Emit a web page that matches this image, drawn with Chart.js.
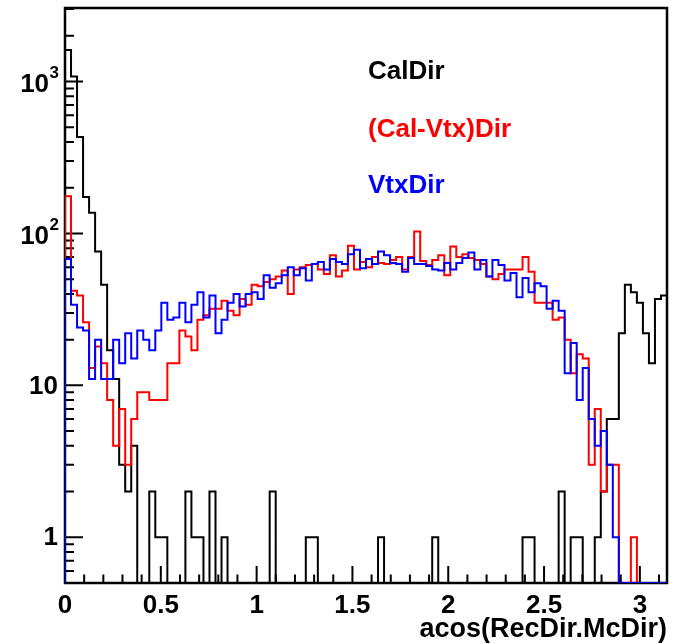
<!DOCTYPE html>
<html><head><meta charset="utf-8">
<script src="https://cdn.jsdelivr.net/npm/chart.js@4/dist/chart.umd.min.js"></script>
<style>html,body{margin:0;padding:0;background:#fff;overflow:hidden}#wrap{width:674px;height:644px;position:relative}</style>
</head><body><div id="wrap"><canvas id="c" width="674" height="644"></canvas></div>
<script>
// ---- data ----
const nBins = 100;
const xLow = 0, xHigh = 3.1416;
const calDir = [1615,1079,431,174,137,76,46,17,11,3, 2,4,0,0,2,1,1,0,0,0, 2,1,1,0,2,0,1,0,0,0, 0,0,0,0,2,0,0,0,0,0, 1,1,0,0,0,0,0,0,0,0, 0,0,1,0,0,0,0,0,0,0, 0,1,0,0,0,0,0,0,0,0, 0,0,0,0,0,0,1,1,0,0, 0,0,2,0,1,1,0,0,1,2, 6,6,22,46,41,35,22,14,37,39];
const calVtxDir = [176,42,39,26,13,18,14,8,4,7, 3,6,9,9,8,8,8,14,14,23, 21,17,27,29,32,32,36,31,29,37, 34,46,45,48,50,52,57,40,58,60, 62,63,58,54,72,52,57,83,58,65, 60,70,64,63,67,70,58,70,103,66, 62,67,72,53,82,70,73,69,67,63, 52,50,54,58,58,58,70,56,35,35, 35,27,28,20,12,16,15,3,7,2, 3,3,0,0,1,0,0,0,0,0];
const vtxDir = [68,34,24,23,11,20,11,11,20,14, 22,15,23,20,17,23,35,27,28,35, 26,34,41,28,39,22,27,35,40,33, 40,41,37,53,44,47,53,60,53,59, 49,63,65,58,68,65,63,73,78,59, 68,63,76,72,64,63,56,69,63,63, 61,58,57,64,58,64,69,75,58,67, 52,67,62,49,55,38,51,41,47,45, 32,36,31,12,19,8,13,6,4,5, 3,1,0,0,0,0,0,0,0,0];
const seriesNames = ['CalDir', '(Cal-Vtx)Dir', 'VtxDir'];
const seriesColors = ['#000000', '#ff0000', '#0000ff'];
const xTickValues = [0, 0.5, 1, 1.5, 2, 2.5, 3];
const xTickLabels = ['0', '0.5', '1', '1.5', '2', '2.5', '3'];
const yDecadeValues = [1, 10, 100, 1000];
const yDecadeBase = ['1', '10', '10', '10'];
const yDecadeExp = ['', '', '2', '3'];
const yMin = 0.5, yMax = 3050;
const xTitle = 'acos(RecDir.McDir)';

const FONT = "'Liberation Sans', Arial, Helvetica, sans-serif";

function toSteps(vals) {
  const w = (xHigh - xLow) / nBins;
  const pts = [{x: xLow, y: yMin}];
  vals.forEach((v, i) => pts.push({x: xLow + i * w, y: v > 0 ? v : yMin}));
  pts.push({x: xHigh, y: vals[vals.length - 1] > 0 ? vals[vals.length - 1] : yMin});
  pts.push({x: xHigh, y: yMin});
  return pts;
}

const allSeries = [calDir, calVtxDir, vtxDir];
const datasets = allSeries.map((vals, i) => ({
  label: seriesNames[i],
  data: toSteps(vals),
  borderColor: seriesColors[i],
  backgroundColor: seriesColors[i],
  borderWidth: 2,
  stepped: 'before',
  fill: false,
  pointRadius: 0,
  order: 3 - i
}));

const framePlugin = {
  id: 'rootFrame',
  beforeDatasetsDraw(chart) {
    const {ctx, chartArea: a, scales: {x, y}} = chart;
    ctx.save();
    ctx.strokeStyle = '#000';
    ctx.lineWidth = 2;
    ctx.beginPath();
    for (let e = -1; e <= 4; e++) {
      for (let m = 1; m <= 9; m++) {
        const v = m * Math.pow(10, e);
        if (v <= yMin || v >= yMax) continue;
        const py = y.getPixelForValue(v);
        const len = m === 1 ? 18 : 9;
        ctx.moveTo(a.left, py); ctx.lineTo(a.left + len, py);
      }
    }
    for (let i = 0; i <= 31; i++) {
      const v = i / 10;
      if (v > xHigh) break;
      const px = x.getPixelForValue(v);
      const len = i % 5 === 0 ? 17 : 8.5;
      ctx.moveTo(px, a.bottom); ctx.lineTo(px, a.bottom - len);
    }
    ctx.stroke();
    ctx.lineWidth = 2.5;
    ctx.strokeRect(a.left, a.top, a.right - a.left, a.bottom - a.top);
    ctx.restore();
  },
  afterDraw(chart) {
    const {ctx, scales: {y}} = chart;
    ctx.save();
    ctx.fillStyle = '#000';
    ctx.textBaseline = 'middle';
    ctx.textAlign = 'right';
    const right = 59;
    yDecadeValues.forEach((v, i) => {
      const py = y.getPixelForValue(v);
      if (yDecadeExp[i]) {
        ctx.font = 'bold 17px ' + FONT;
        const ew = ctx.measureText(yDecadeExp[i]).width;
        ctx.fillText(yDecadeExp[i], right, py - 8);
        ctx.font = 'bold 26px ' + FONT;
        ctx.fillText(yDecadeBase[i], right - ew - 0.5, py + 3);
      } else {
        ctx.font = 'bold 26px ' + FONT;
        ctx.fillText(yDecadeBase[i], right - 1, py + 1);
      }
    });
    ctx.restore();
  }
};

const legendTextPlugin = {
  id: 'legendText',
  afterDraw(chart) {
    const ctx = chart.ctx;
    const ys = [72, 130, 186];
    ctx.save();
    ctx.font = 'bold 26px ' + FONT;
    ctx.textBaseline = 'middle';
    ctx.textAlign = 'left';
    seriesNames.forEach((n, i) => {
      ctx.fillStyle = seriesColors[i];
      ctx.fillText(n, 368, ys[i]);
    });
    ctx.restore();
  }
};

new Chart(document.getElementById('c'), {
  type: 'line',
  data: {datasets},
  options: {
    responsive: false,
    animation: false,
    devicePixelRatio: 1,
    layout: {padding: {top: 8, right: 7, left: 0, bottom: 0}},
    plugins: {legend: {display: false}, tooltip: {enabled: false}},
    scales: {
      x: {
        type: 'linear', min: xLow, max: xHigh,
        afterBuildTicks: s => { s.ticks = xTickValues.map(v => ({value: v})); },
        afterFit: s => { s.height = 61; },
        grid: {display: false, drawTicks: false},
        border: {display: false},
        ticks: {
          callback: (v, i) => xTickLabels[i],
          font: {family: FONT, size: 26, weight: 'bold'},
          color: '#000', padding: 7, maxRotation: 0, autoSkip: false
        },
        title: {
          display: true, text: xTitle, align: 'end', color: '#000',
          font: {family: FONT, size: 27, weight: 'bold', lineHeight: 1},
          padding: {top: 0, bottom: 1}
        }
      },
      y: {
        type: 'logarithmic', min: yMin, max: yMax,
        afterBuildTicks: s => { s.ticks = yDecadeValues.map(v => ({value: v})); },
        afterFit: s => { s.width = 65; },
        grid: {display: false, drawTicks: false},
        border: {display: false},
        ticks: {display: false}
      }
    }
  },
  plugins: [framePlugin, legendTextPlugin]
});
</script>
</body></html>
